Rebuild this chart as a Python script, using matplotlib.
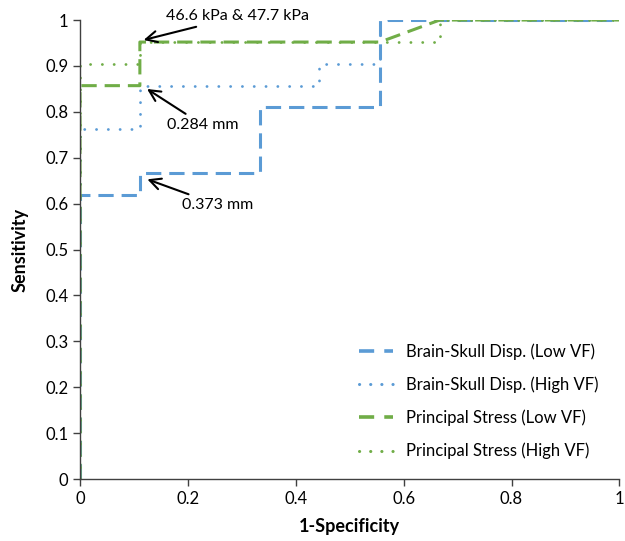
import matplotlib
matplotlib.use("Agg")
import matplotlib.pyplot as plt
from matplotlib.lines import Line2D

plt.rcParams["font.family"] = ["Lato", "DejaVu Sans"]

BLUE = "#5B9BD5"
GREEN = "#70AD47"

# ROC curves (1-specificity, sensitivity)
bs_low_x = [0, 0, 0.111, 0.111, 0.333, 0.333, 0.556, 0.556, 1]
bs_low_y = [0, 0.619, 0.619, 0.667, 0.667, 0.810, 0.810, 1, 1]

bs_high_x = [0, 0, 0.111, 0.111, 0.444, 0.444, 0.556, 0.556, 1]
bs_high_y = [0, 0.762, 0.762, 0.857, 0.857, 0.905, 0.905, 1, 1]

ps_low_x = [0, 0, 0.111, 0.111, 0.556, 0.667, 1]
ps_low_y = [0, 0.857, 0.857, 0.952, 0.952, 1, 1]

ps_high_x = [0, 0, 0.111, 0.111, 0.667, 0.667, 1]
ps_high_y = [0, 0.905, 0.905, 0.952, 0.952, 1, 1]

labels = [
    "Brain-Skull Disp. (Low VF)",
    "Brain-Skull Disp. (High VF)",
    "Principal Stress (Low VF)",
    "Principal Stress (High VF)",
]

fig = plt.figure(figsize=(6.25, 5.41), dpi=100)
ax = fig.add_axes([0.128, 0.1146, 0.863, 0.8484])

DASH = (5, 2.6)
DOT = (0.05, 4.2)
ax.plot(bs_low_x, bs_low_y, color=BLUE, lw=2.2, dashes=DASH)
ax.plot(bs_high_x, bs_high_y, color=BLUE, lw=2.0, dashes=DOT, dash_capstyle="round")
ax.plot(ps_low_x, ps_low_y, color=GREEN, lw=2.2, dashes=DASH)
ax.plot(ps_high_x, ps_high_y, color=GREEN, lw=2.0, dashes=DOT, dash_capstyle="round")

arrow = dict(arrowstyle="->", color="black", lw=1.5, mutation_scale=20)
ax.annotate("46.6 kPa & 47.7 kPa", xy=(0.113, 0.955), xytext=(0.16, 1.008),
            fontsize=11.5, va="center", ha="left", arrowprops=arrow,
            annotation_clip=False)
ax.annotate("0.284 mm", xy=(0.12, 0.853), xytext=(0.162, 0.771),
            fontsize=11.5, va="center", ha="left", arrowprops=arrow)
ax.annotate("0.373 mm", xy=(0.12, 0.655), xytext=(0.19, 0.597),
            fontsize=11.5, va="center", ha="left", arrowprops=arrow)

ax.set_xlim(0, 1)
ax.set_ylim(0, 1)
ax.set_xticks([0, 0.2, 0.4, 0.6, 0.8, 1])
ax.set_xticklabels(["0", "0.2", "0.4", "0.6", "0.8", "1"])
ax.set_yticks([i / 10 for i in range(11)])
ax.set_yticklabels(["0"] + [f"{i / 10:g}" for i in range(1, 10)] + ["1"])
ax.tick_params(labelsize=12, direction="out", length=5, width=1, color="#404040")
ax.set_xlabel("1-Specificity", fontsize=13, fontweight="bold", labelpad=8)
ax.set_ylabel("Sensitivity", fontsize=13, fontweight="bold", labelpad=12)
for s in ("top", "right"):
    ax.spines[s].set_visible(False)
for s in ("left", "bottom"):
    ax.spines[s].set_color("#404040")
    ax.spines[s].set_linewidth(1)

# legend keys with shorter dash pattern, like the original
leg_handles = [
    Line2D([], [], color=BLUE, lw=2.6, dashes=(4.2, 2.8)),
    Line2D([], [], color=BLUE, lw=2.2, dashes=(0.05, 3.6), dash_capstyle="round"),
    Line2D([], [], color=GREEN, lw=2.6, dashes=(4.2, 2.8)),
    Line2D([], [], color=GREEN, lw=2.2, dashes=(0.05, 3.6), dash_capstyle="round"),
]
ax.legend(leg_handles, labels, loc="lower right", bbox_to_anchor=(0.99, 0.01),
          frameon=False, fontsize=12, handlelength=2.05, labelspacing=1.0,
          handletextpad=0.8)

fig.savefig("out.png", dpi=100)
